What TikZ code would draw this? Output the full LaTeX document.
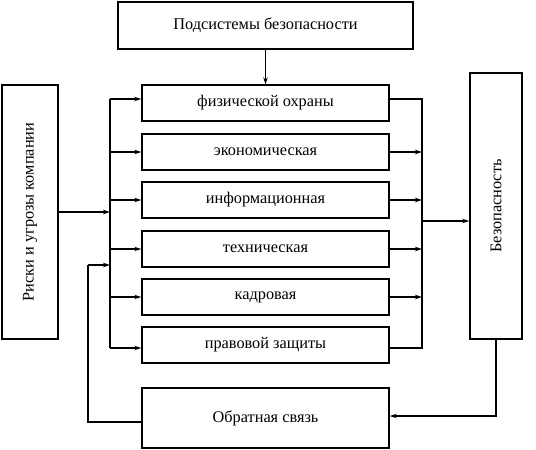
\documentclass[tikz,border=0pt]{standalone}
\usepackage{fontspec}
\setmainfont{Liberation Serif}
\usetikzlibrary{arrows.meta}
\begin{document}
\begin{tikzpicture}[x=1pt,y=-1pt,
  txt/.style={font=\fontsize{16.3}{18}\selectfont},
  box/.style={draw,line width=1.4pt,inner sep=0pt,txt},
  sub/.style={box,minimum width=247pt,minimum height=36pt},
  arr/.style={line width=1.1pt,-{Stealth[length=7pt,width=4.5pt]}},
  ln/.style={line width=1.1pt}]
\useasboundingbox (0,0) rectangle (536,450);
\node[box,minimum width=295pt,minimum height=47pt] (top) at (265.5,25.5) {Подсистемы безопасности};
\node[sub] (s1) at (265.5,103) {физической охраны};
\node[sub] (s2) at (265.5,152) {экономическая};
\node[sub] (s3) at (265.5,200) {информационная};
\node[sub] (s4) at (265.5,249) {техническая};
\node[sub] (s5) at (265.5,297) {кадровая};
\node[sub] (s6) at (265.5,345) {правовой защиты};
\node[box,minimum width=247pt,minimum height=60pt] (fb) at (265.5,418) {Обратная связь};
\node[box,minimum width=56pt,minimum height=254pt] (left) at (30,212) {};
\node[txt,rotate=90] (lt) at (left.center) {Риски и угрозы компании};
\node[box,minimum width=52pt,minimum height=266pt] (right) at (496,206) {};
\node[txt,rotate=90] (rt) at (right.center) {Безопасность};
\coordinate (lbus) at (110,0);
\coordinate (rbus) at (422,0);
\coordinate (fbk) at (88,265);
\coordinate (rmid) at (422,221);
\coordinate (p1w) at ([yshift=4pt]s1.west);
\coordinate (p1e) at ([yshift=4pt]s1.east);
\coordinate (p6w) at ([yshift=-3pt]s6.west);
\coordinate (p6e) at ([yshift=-3pt]s6.east);
\coordinate (fbw) at ([yshift=-4pt]fb.west);
\coordinate (fbe) at ([yshift=2pt]fb.east);
% top arrow
\draw[arr] (top.south) -- (s1.north);
% left bus
\draw[ln] (p1w -| lbus) -- (p6w -| lbus);
\draw[arr] (p1w -| lbus) -- (p1w);
\foreach \s in {s2,s3,s4,s5}{
  \draw[arr] (\s.west -| lbus) -- (\s.west);
}
\draw[arr] (p6w -| lbus) -- (p6w);
\draw[arr] (left.east) -- (left.east -| lbus);
\draw[ln] (fbw) -| (fbk);
\draw[arr] (fbk) -- (fbk -| lbus);
% right bus
\draw[ln] (p1e) -| (p6e -| rbus) -- (p6e);
\foreach \s in {s2,s3,s4,s5}{
  \draw[arr] (\s.east) -- (\s.east -| rbus);
}
\draw[arr] (rmid) -- (rmid -| right.west);
\draw[arr] (right.south) |- (fbe);
\end{tikzpicture}
\end{document}
